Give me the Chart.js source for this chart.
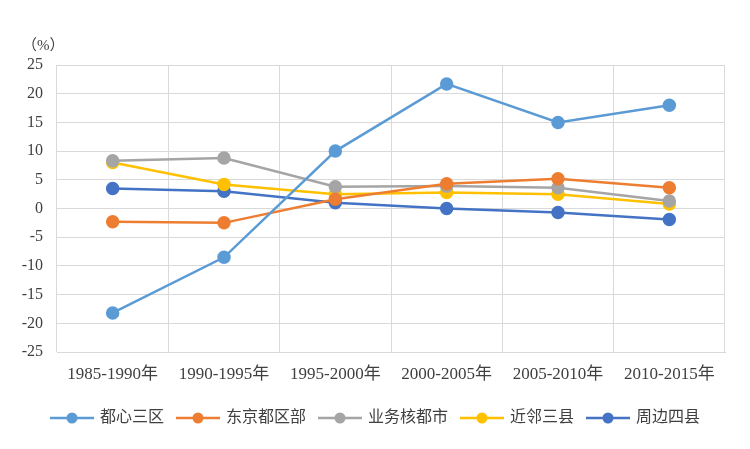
<!DOCTYPE html>
<html>
<head>
<meta charset="utf-8">
<script src="https://cdn.jsdelivr.net/npm/chart.js@4/dist/chart.umd.min.js"></script>
<style>
  body { margin: 0; background: #fff; }
  #wrap { width: 750px; height: 449px; position: relative; }
</style>
</head>
<body>
<div id="wrap"><canvas id="c" width="750" height="449"></canvas></div>
<script>
// Periods on the x axis
var periods = ['1985-1990年', '1990-1995年', '1995-2000年', '2000-2005年', '2005-2010年', '2010-2015年'];

// Series values (%)
var toshin = [-18.2, -8.5, 10.0, 21.7, 15.0, 18.0];
var kubu = [-2.3, -2.5, 1.6, 4.3, 5.2, 3.6];
var gyomu = [8.3, 8.8, 3.8, 3.9, 3.6, 1.3];
var kinrin = [8.0, 4.2, 2.5, 2.8, 2.5, 0.8];
var shuhen = [3.5, 3.0, 1.0, 0.0, -0.7, -1.9];

var seriesNames = ['都心三区', '东京都区部', '业务核都市', '近邻三县', '周边四县'];
var seriesColors = ['#5B9BD5', '#ED7D31', '#A5A5A5', '#FFC000', '#4472C4'];

var FONT = "'Liberation Serif', 'Noto Sans CJK SC', serif";

function makeSet(i, data) {
    return {
        label: seriesNames[i],
        data: data,
        borderColor: seriesColors[i],
        backgroundColor: seriesColors[i],
        borderWidth: 2.5,
        pointRadius: 5.5,
        pointHoverRadius: 5.5,
        tension: 0
    };
}

// custom legend: line + circle marker, like the original
var lineLegend = {
    id: 'lineLegend',
    afterDraw: function (chart) {
        var ctx = chart.ctx;
        ctx.save();
        ctx.font = '16px ' + FONT;
        ctx.textBaseline = 'middle';
        var y = 418;
        var items = chart.data.datasets.map(function (ds) {
            return { ds: ds, w: 44 + 6 + ctx.measureText(ds.label).width };
        });
        var gap = 12;
        var total = items.reduce(function (s, it) { return s + it.w; }, 0) + gap * (items.length - 1);
        var x = (750 - total) / 2;
        items.forEach(function (it) {
            ctx.strokeStyle = it.ds.borderColor;
            ctx.lineWidth = 2.5;
            ctx.beginPath();
            ctx.moveTo(x, y);
            ctx.lineTo(x + 44, y);
            ctx.stroke();
            ctx.fillStyle = it.ds.borderColor;
            ctx.beginPath();
            ctx.arc(x + 22, y, 5.5, 0, Math.PI * 2);
            ctx.fill();
            ctx.fillStyle = '#404040';
            ctx.fillText(it.ds.label, x + 50, y);
            x += it.w + gap;
        });
        // unit label
        ctx.font = '15px ' + FONT;
        ctx.fillStyle = '#404040';
        ctx.textBaseline = 'alphabetic';
        ctx.fillText('（%）', 22, 50);
        ctx.restore();
    }
};

new Chart(document.getElementById('c').getContext('2d'), {
    type: 'line',
    data: {
        labels: periods,
        datasets: [makeSet(0, toshin), makeSet(1, kubu), makeSet(2, gyomu), makeSet(3, kinrin), makeSet(4, shuhen)]
    },
    options: {
        responsive: false,
        animation: false,
        devicePixelRatio: 1,
        layout: { padding: { top: 65, right: 25, bottom: 52, left: 0 } },
        scales: {
            x: {
                offset: true,
                grid: { offset: true, color: '#D9D9D9', drawTicks: false },
                border: { color: '#D9D9D9' },
                ticks: { color: '#404040', font: { size: 17, family: FONT }, padding: 12, maxRotation: 0 },
                afterFit: function (s) { s.height = 45; }
            },
            y: {
                min: -25,
                max: 25,
                grid: { color: '#D9D9D9', drawTicks: false },
                border: { display: false },
                ticks: { stepSize: 5, color: '#404040', font: { size: 16, family: FONT }, padding: 14 },
                afterFit: function (s) { s.width = 57; }
            }
        },
        plugins: {
            legend: { display: false },
            tooltip: { enabled: false }
        }
    },
    plugins: [lineLegend]
});
</script>
</body>
</html>
